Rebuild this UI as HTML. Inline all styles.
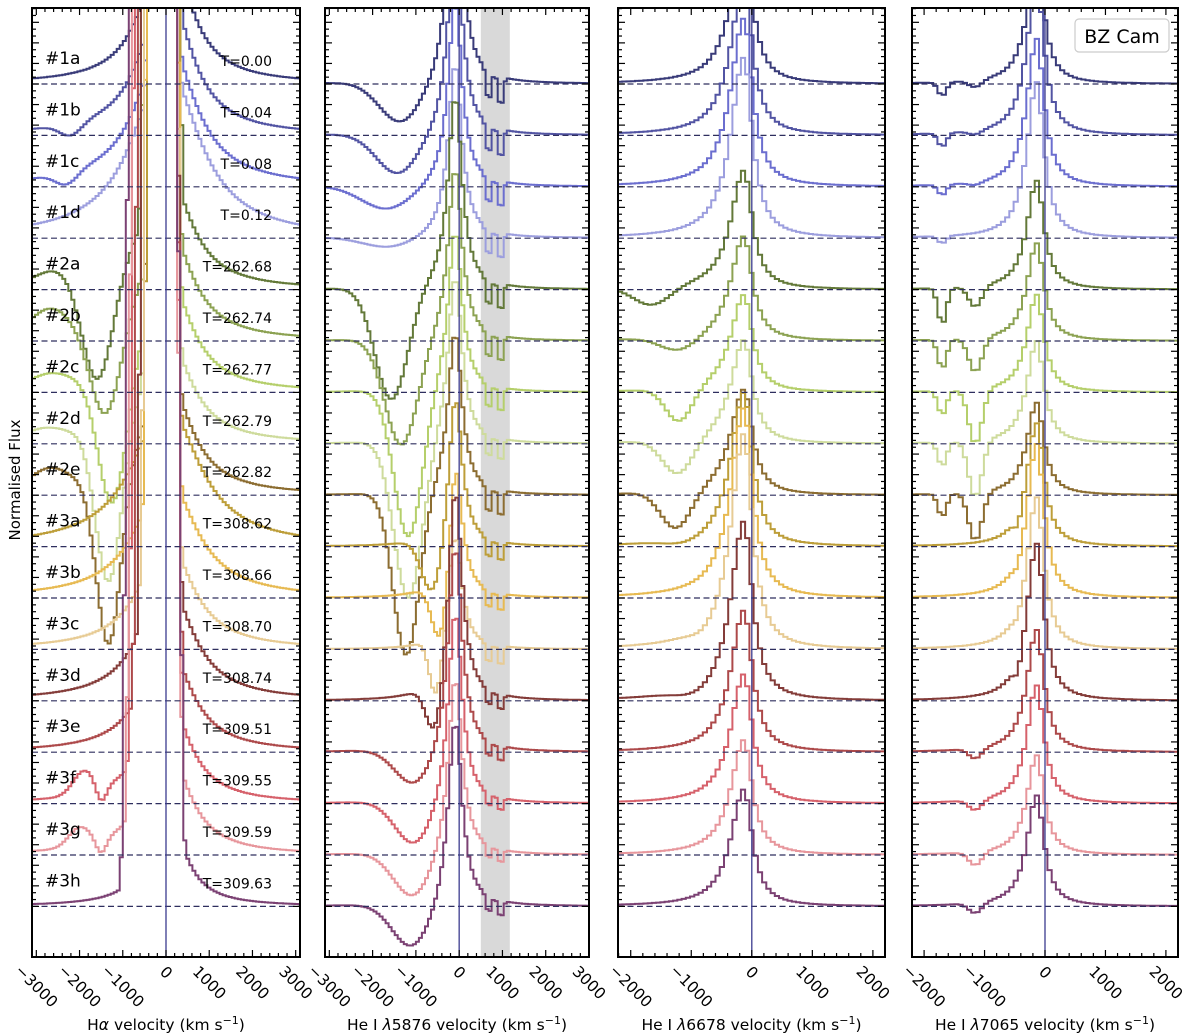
<!DOCTYPE html>
<html><head><meta charset="utf-8">
<style>
html,body{margin:0;padding:0;background:#fff;}
svg{display:block;font-family:"DejaVu Sans","Liberation Sans",sans-serif;}
</style></head>
<body>
<svg id="chart" width="1200" height="1035" viewBox="0 0 1200 1035" xmlns="http://www.w3.org/2000/svg"></svg>
<script>
// ---------- data ----------
const specLabels = ['#1a','#1b','#1c','#1d','#2a','#2b','#2c','#2d','#2e','#3a','#3b','#3c','#3d','#3e','#3f','#3g','#3h'];
const specTimes = ['T=0.00','T=0.04','T=0.08','T=0.12','T=262.68','T=262.74','T=262.77','T=262.79','T=262.82','T=308.62','T=308.66','T=308.70','T=308.74','T=309.51','T=309.55','T=309.59','T=309.63'];
const specColors = ['#393b79','#5254a3','#6b6ecf','#9c9ede','#637939','#8ca252','#b5cf6b','#cedb9c','#8c6d31','#bd9e39','#e7ba52','#e7cb94','#843c39','#ad494a','#d6616b','#e7969c','#7b4173'];
// flux values in percent of continuum; each spectrum offset by 50%
// H-alpha
const haCoreLo = [-450,-450,-420,-420,-550,-520,-500,-480,-450,-450,-480,-520,-600,-700,-800,-850,-950];
const haCoreHi = [350,320,300,300,320,300,300,300,300,300,300,300,300,300,300,300,330];
const haWingAmp = [150,150,150,170,120,120,120,110,120,140,120,110,120,110,110,110,100];
const haWingW = [600,650,750,900,650,650,650,650,650,900,800,700,700,650,600,600,470];
const haAbsV = [0,-2200,-2300,0,-1580,-1390,-1230,-1320,-1320,0,0,0,0,0,-1500,-1500,0];
const haAbsD = [0,12,12,0,105,92,133,155,168,0,0,0,0,0,18,15,0];
const haAbsS = [300,250,250,300,350,350,330,300,280,300,300,300,300,300,120,120,300];
const haBumpV = [0,0,0,0,-2600,-2700,-2700,-2800,-2700,0,0,0,0,0,-1900,-2000,0];
const haBumpH = [0,0,0,0,12,25,12,10,20,0,0,0,0,0,22,18,0];
// He I 5876
const he5Peak = [230,200,180,170,188,168,157,163,158,150,140,110,207,204,191,176,184];
const he5AbsV = [-1330,-1400,-1650,-1600,-1560,-1330,-1170,-1170,-1220,-600,-410,-530,-550,-1010,-1010,-1050,-1080];
const he5AbsD = [42,41,24,11,110,105,145,155,160,60,70,60,55,38,46,46,45];
const he5AbsS = [500,500,600,600,380,380,330,330,300,250,200,150,200,450,450,450,450];
const he5NaD = [32,32,30,30,30,30,28,25,30,22,20,22,18,18,15,15,18];
// He I 6678
const he6Peak = [140,150,164,176,116,102,95,101,103,150,185,210,175,138,126,112,114];
const he6AbsV = [0,0,0,0,-1650,-1200,-1200,-1220,-1250,-1100,0,-800,-900,0,0,0,0];
const he6AbsD = [0,0,0,0,18,14,33,34,37,5,0,6,7,0,0,0,0];
const he6AbsS = [300,300,300,300,300,300,220,250,250,300,300,200,300,300,300,300,300];
// He I 7065
const he7Peak = [120,150,144,152,106,95,95,100,90,120,150,148,153,119,115,97,108];
const he7Abs1 = [13,13,10,7,35,28,23,23,22,0,0,0,0,0,0,0,0];
const he7Abs2 = [7,4,3,0,20,33,53,55,47,0,0,0,0,10,10,13,10];
const he7Abs3 = [0,0,0,0,0,0,0,0,0,11,8,7,13,0,0,0,0];

// ---------- layout ----------
const NS='http://www.w3.org/2000/svg';
const svg=document.getElementById('chart');
const TOP=8, BOT=957, BASE0=84, STEP=51.4, PXPCT=1.028;
const panels=[
 {x0:32,x1:300,vmin:-3100,vmax:3100,xl:'Hα',name:'halpha'},
 {x0:325,x1:589,vmin:-3100,vmax:3000,xl:'5876',name:'hei-5876'},
 {x0:618,x1:885,vmin:-2210,vmax:2200,xl:'6678',name:'hei-6678'},
 {x0:912,x1:1178,vmin:-2200,vmax:2200,xl:'7065',name:'hei-7065'}];
function el(tag,attrs,parent){const e=document.createElementNS(NS,tag);for(const k in attrs)e.setAttribute(k,attrs[k]);(parent||svg).appendChild(e);return e;}
function baseY(i){return BASE0+STEP*i;}
function lor(v,c,wb,wr){const w=v<c?wb:wr;const d=(v-c)/w;return 1/(1+d*d);}
function gau(v,c,s){const d=(v-c)/s;return Math.exp(-0.5*d*d);}

const profiles=[
 function(i,v){const mid=(haCoreLo[i]+haCoreHi[i])/2,half=(haCoreHi[i]-haCoreLo[i])/2;const x=(v-mid)/half;
   let f=1000*Math.exp(-Math.pow(Math.abs(x),10))+haWingAmp[i]*lor(v,0,haWingW[i],haWingW[i]);
   f-=haAbsD[i]*gau(v,haAbsV[i],haAbsS[i]);
   if(haBumpH[i])f+=haBumpH[i]*gau(v,haBumpV[i],i>=14?250:450);return f;},
 function(i,v){let f=he5Peak[i]*lor(v,-90,200,190);f-=he5AbsD[i]*gau(v,he5AbsV[i],he5AbsS[i]);
   f-=he5NaD[i]*(gau(v,680,50)+gau(v,960,50));return f;},
 function(i,v){let f=he6Peak[i]*lor(v,-130,260,170);f-=he6AbsD[i]*gau(v,he6AbsV[i],he6AbsS[i]);return f;},
 function(i,v){let f=he7Peak[i]*lor(v,-140,190,150);f-=he7Abs1[i]*gau(v,-1700,70)+he7Abs2[i]*gau(v,-1150,110)+he7Abs3[i]*gau(v,-450,60);return f;}
];

const defs=el('defs',{});
panels.forEach((p,pi)=>{
  const cp=el('clipPath',{id:'clip'+pi},defs);
  el('rect',{x:p.x0,y:TOP,width:p.x1-p.x0,height:BOT-TOP},cp);
});

panels.forEach((p,pi)=>{
  const sx=v=>p.x0+(v-p.vmin)/(p.vmax-p.vmin)*(p.x1-p.x0);
  const g=el('g',{'clip-path':'url(#clip'+pi+')'});
  
  
  if(pi===1){
    const r=el('rect',{x:sx(500),y:TOP,width:sx(1170)-sx(500),height:BOT-TOP,fill:'#d9d9d9'},g);
    
    
  }
  const bin=70;
  for(let i=0;i<17;i++){
    let d='';
    for(let v=p.vmin;v<p.vmax;v+=bin){
      const f=profiles[pi](i,v+bin/2);
      let y=baseY(i)-f*PXPCT; y=Math.max(-20,Math.min(1100,y));
      const xa=sx(v).toFixed(1),xb=sx(Math.min(v+bin,p.vmax)).toFixed(1);
      d+=(d?'H'+xa+'V':'M'+xa+',')+y.toFixed(1)+'H'+xb;
    }
    const path=el('path',{d:d,fill:'none',stroke:specColors[i],'stroke-width':2,'stroke-linejoin':'miter'},g);
    
    
  }
  for(let i=0;i<17;i++){
    const ln=el('line',{x1:p.x0,x2:p.x1,y1:baseY(i),y2:baseY(i),stroke:'#2e2e5e','stroke-width':1.2,'stroke-dasharray':'6,3.5'},g);
    
    
  }
  const z=el('line',{x1:sx(0),x2:sx(0),y1:TOP,y2:BOT,stroke:'#3b3b8f','stroke-width':1.3},g);
  
  

  const fr=el('rect',{x:p.x0,y:TOP,width:p.x1-p.x0,height:BOT-TOP,fill:'none',stroke:'#000','stroke-width':2});
  
  
  for(let v=Math.ceil(p.vmin/200)*200;v<=p.vmax;v+=200){
    const major=v%1000===0, L=major?7:4, x=sx(v);
    el('line',{x1:x,x2:x,y1:BOT,y2:BOT-L,stroke:'#000','stroke-width':1.2});
    el('line',{x1:x,x2:x,y1:TOP,y2:TOP+L,stroke:'#000','stroke-width':1.2});
    if(major){
      const s=(v<0?'\u2212':'')+Math.abs(v);
      const w=s.length*9.6, ext=(w+15)*0.707;
      const cy=964+ext/2;
      const t=el('text',{x:x,y:cy,'text-anchor':'middle','dominant-baseline':'central','font-size':15.5,transform:'rotate(45 '+x+' '+cy+')'});
      t.textContent=s;
      
      
    }
  }
  for(let k=-120;k<=30;k++){
    const f=k/15; const y=BASE0-f*102.8;
    if(y<TOP||y>BOT)continue;
    const major=k%3===0, L=major?7:4;
    el('line',{x1:p.x0,x2:p.x0+L,y1:y,y2:y,stroke:'#000','stroke-width':1.2});
    el('line',{x1:p.x1,x2:p.x1-L,y1:y,y2:y,stroke:'#000','stroke-width':1.2});
  }
  const cx=(p.x0+p.x1)/2;
  const xt=el('text',{x:cx,y:1030,'text-anchor':'middle','font-size':15.5});
  
  
  if(pi===0){xt.innerHTML='H<tspan font-style="italic">α</tspan> velocity (km s<tspan dy="-6" font-size="11">−1</tspan><tspan dy="6">)</tspan>';}
  else{xt.innerHTML='He I <tspan font-style="italic">λ</tspan>'+p.xl+' velocity (km s<tspan dy="-6" font-size="11">−1</tspan><tspan dy="6">)</tspan>';}
});

for(let i=0;i<17;i++){
  const a=el('text',{x:45,y:baseY(i)-20,'font-size':17});
  a.textContent=specLabels[i];
  
  
  const b=el('text',{x:272,y:baseY(i)-18,'font-size':14,'text-anchor':'end'});
  b.textContent=specTimes[i];
  
  
}
const yt=el('text',{x:0,y:0,'font-size':15,'text-anchor':'middle',transform:'translate(20 480) rotate(-90)'});
yt.textContent='Normalised Flux';


const lg=el('g',{});


el('rect',{x:1075,y:19,width:94,height:33,rx:4,fill:'#fff',stroke:'#cccccc','stroke-width':1.2},lg);
const lt=el('text',{x:1122,y:43,'font-size':19,'text-anchor':'middle'},lg);
lt.textContent='BZ Cam';
</script>
</body></html>
